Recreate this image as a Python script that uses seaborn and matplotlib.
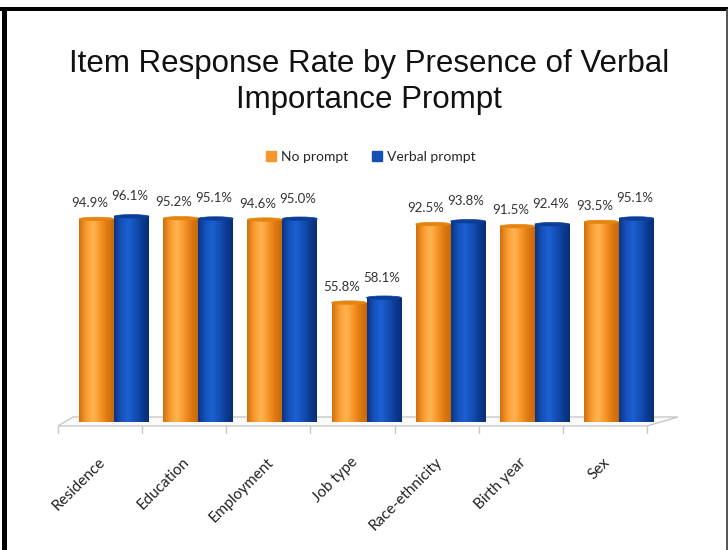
import numpy as np
import pandas as pd
import matplotlib
matplotlib.use("Agg")
import matplotlib.pyplot as plt
import seaborn as sns
from matplotlib.colors import LinearSegmentedColormap
from matplotlib.patches import Ellipse, Polygon, Rectangle
from matplotlib.lines import Line2D

# ---- data ----
categories = ["Residence", "Education", "Employment", "Job type",
              "Race-ethnicity", "Birth year", "Sex"]
no_prompt = [94.9, 95.2, 94.6, 55.8, 92.5, 91.5, 93.5]
verbal_prompt = [96.1, 95.1, 95.0, 58.1, 93.8, 92.4, 95.1]
series = ["No prompt", "Verbal prompt"]
title = "Item Response Rate by Presence of Verbal\nImportance Prompt"

df = pd.DataFrame({
    "Item": categories * 2,
    "Rate": no_prompt + verbal_prompt,
    "Group": [series[0]] * len(categories) + [series[1]] * len(categories),
})

sns.set_theme(style="white")
plt.rcParams['font.family'] = ['Lato', 'DejaVu Sans']

W, H = 728, 550
fig = plt.figure(figsize=(W / 100, H / 100), dpi=100)
fig.patch.set_facecolor("white")


def fx(x):
    return x / W


def fy(y):
    return 1 - y / H


# bars are drawn with a 3-D depth offset to the right of the floor ticks
depth_dx = 14
ax_left, ax_right = 58 + depth_dx, 647 + depth_dx
y0 = 422
ymax = 110
px_per = 2.14
ax_h = ymax * px_per
ax = fig.add_axes([fx(ax_left), fy(y0), (ax_right - ax_left) / W, ax_h / H])

base_colors = ["#F7962A", "#1250B4"]
sns.barplot(data=df, x="Item", y="Rate", hue="Group", palette=base_colors,
            width=0.83, ax=ax, legend=False, saturation=1, linewidth=0)

cmaps = [
    LinearSegmentedColormap.from_list("or", ["#D0700C", "#F99A30", "#FFB552", "#F8982C", "#DE7A12", "#C9690A"]),
    LinearSegmentedColormap.from_list("bl", ["#0A3482", "#1552BC", "#1C60D0", "#1450B8", "#0C3C95", "#082E75"]),
]
top_colors = ["#E5850F", "#0B3E98"]
grad = np.linspace(0, 1, 64).reshape(1, -1)

patches = list(ax.patches)
n = len(categories)
values_all = no_prompt + verbal_prompt
for k, p in enumerate(patches):
    s = 0 if k < n else 1
    x, w, h = p.get_x(), p.get_width(), p.get_height()
    im = ax.imshow(grad, cmap=cmaps[s], extent=[x, x + w, 0, h], aspect="auto",
                   zorder=3, interpolation="bilinear")
    im.set_clip_path(p)
    e = Ellipse((x + w / 2, h), w, 1.6, facecolor=top_colors[s],
                edgecolor=top_colors[s], lw=0.5, zorder=4)
    ax.add_patch(e)
    off = (-7, 16) if s == 0 else (-2, 20)
    ax.annotate(f"{values_all[k]:.1f}%", xy=(x + w / 2, h), xytext=off,
                textcoords="offset pixels", ha="center", va="center",
                fontsize=9.5, color="#333333", zorder=5, annotation_clip=False)

ax.set_xlim(-0.5, n - 0.5)
ax.set_ylim(0, ymax)
ax.set_xticks([])
ax.set_yticks([])
ax.set_xlabel("")
ax.set_ylabel("")
for sp in ax.spines.values():
    sp.set_visible(False)
ax.patch.set_alpha(0)

# category labels (anchored at floor tick centres)
for i, c in enumerate(categories):
    ax.annotate(c, xy=(i, 0), xytext=(-depth_dx + 3, -38), textcoords="offset pixels",
                ha="right", va="center", rotation=45, rotation_mode="anchor",
                fontsize=11, color="#222222", annotation_clip=False)

# floor
floor_col = "#C8C8C8"
floor = Polygon([(fx(58), fy(426)), (fx(647), fy(426)), (fx(678), fy(417)), (fx(73), fy(417))],
                closed=True, facecolor="#FAFAFA", edgecolor=floor_col, lw=1,
                transform=fig.transFigure, zorder=0)
fig.add_artist(floor)
ax.set_zorder(2)
step = (647 - 58) / n
for k in range(n + 1):
    xx = 58 + k * step
    fig.add_artist(Line2D([fx(xx), fx(xx)], [fy(426), fy(433)], color=floor_col, lw=1,
                          transform=fig.transFigure))

# legend
handles = [Line2D([0], [0], marker="s", linestyle="none", markersize=7,
                  markerfacecolor=c, markeredgecolor=c) for c in base_colors]
fig.legend(handles, series, loc="center", bbox_to_anchor=(fx(370), fy(157)),
           ncol=2, frameon=False, fontsize=10, handletextpad=0.2,
           columnspacing=1.6, handlelength=1.0)

# title
fig.text(fx(369), fy(82), title, ha="center", va="center", fontsize=22.5,
         family=["Liberation Sans", "DejaVu Sans"],
         color="#111111", linespacing=1.22)

# frame borders
fig.add_artist(Rectangle((0, fy(11)), 1, 4 / H, transform=fig.transFigure,
                         facecolor="black", edgecolor="none"))
fig.add_artist(Rectangle((fx(2), 0), 5 / W, fy(9), transform=fig.transFigure,
                         facecolor="black", edgecolor="none"))
fig.add_artist(Rectangle((fx(726), 0), 2 / W, fy(9), transform=fig.transFigure,
                         facecolor="#555555", edgecolor="none"))

fig.savefig("out.png", dpi=100)
